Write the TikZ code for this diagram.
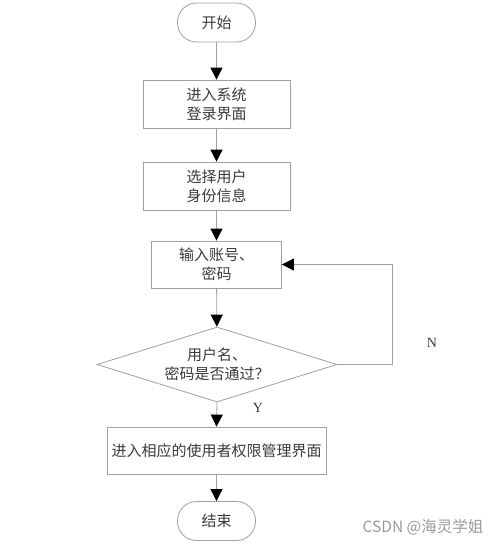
\documentclass[tikz,border=0pt]{standalone}
\usepackage{fontspec}
\setmainfont{Liberation Serif}
\newfontfamily\cjk{Noto Sans CJK SC}
\usetikzlibrary{arrows.meta,shapes.geometric}
\definecolor{linegray}{HTML}{A0A0A0}
\definecolor{txt}{HTML}{3A3A3A}
\definecolor{wm}{HTML}{9A9A9A}
\begin{document}
\begin{tikzpicture}[x=1pt,y=-1pt,
  base/.style={draw=linegray, line width=0.8pt, align=center, text=txt,
    font=\cjk\fontsize{15}{19}\selectfont, inner sep=0pt},
  box/.style={base, rectangle, minimum width=147pt, minimum height=48pt},
  term/.style={base, rectangle, rounded corners=19pt, minimum width=78pt, minimum height=39pt},
  decision/.style={base, diamond, aspect=3.2, minimum width=240pt, minimum height=75pt},
  flow/.style={draw=linegray, line width=0.8pt, -{Triangle[length=12pt,width=12pt,color=black]}},
  lbl/.style={text=txt, font=\fontsize{14}{16}\selectfont, inner sep=0pt}
]
\useasboundingbox (0,0) rectangle (500,549);

\node[term] (start) at (216.5,22.5) {开始};
\node[box] (b1) at (216.5,104) {进入系统\\登录界面};
\node[box] (b2) at (216.5,186) {选择用户\\身份信息};
\node[box, minimum width=130pt, minimum height=47pt] (b3) at (216.5,264.5) {输入账号、\\密码};
\node[decision] (d) at (217,364.5) {用户名、\\密码是否通过？};
\node[box, minimum width=219pt, minimum height=47pt] (b4) at (216.5,450.5) {进入相应的使用者权限管理界面};
\node[term] (end) at (216.5,521) {结束};

\draw[flow] (start) -- (b1);
\draw[flow] (b1) -- (b2);
\draw[flow] (b2) -- (b3);
\draw[flow] (b3) -- (d);
\draw[flow] (d.south) -- (b4.north);
\draw[flow] (b4) -- (end);
\coordinate (loop) at (392,364.5);
\draw[flow] (d.east) -- (loop) |- (b3.east);

\node[lbl] (ylbl) at (258,408) {Y};
\node[lbl] (nlbl) at (432,343) {N};
\node[text=wm, font=\cjk\fontsize{15.5}{17}\selectfont, inner sep=0pt] (wmark) at (423,527) {CSDN @海灵学姐};
\end{tikzpicture}
\end{document}
